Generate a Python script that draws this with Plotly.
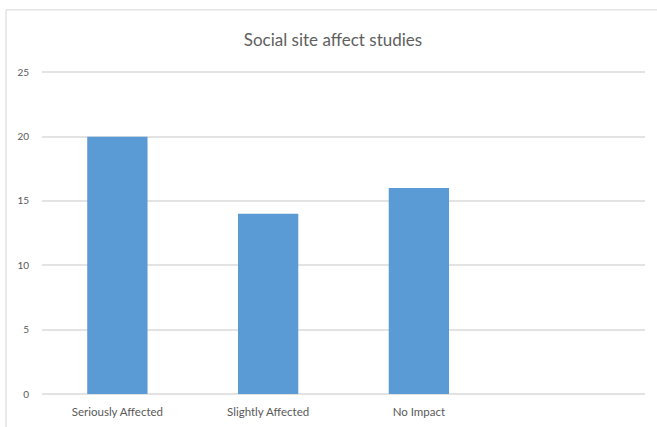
import plotly.graph_objects as go

# Survey data
categories = ["Seriously Affected", "Slightly Affected", "No Impact"]
counts = [20, 14, 16]
y_ticks = [0, 5, 10, 15, 20, 25]
title_text = "Social site affect studies"

positions = list(range(len(categories)))

fig = go.Figure(
    go.Bar(
        x=positions,
        y=counts,
        width=0.4,
        marker=dict(color="#5b9bd5", line=dict(width=0)),
        hoverinfo="x+y",
    )
)

grey_text = "#595959"
grid = "#e3e3e3"
font_family = "Lato, 'Open Sans', sans-serif"

fig.update_layout(
    width=657,
    height=427,
    margin=dict(l=42, r=12, t=71, b=33, autoexpand=False),
    paper_bgcolor="white",
    plot_bgcolor="white",
    showlegend=False,
    font=dict(family=font_family, color=grey_text, size=10),
    title=dict(
        text=title_text,
        x=333 / 657,
        xanchor="center",
        y=1 - 40 / 427,
        yanchor="middle",
        font=dict(family=font_family, size=17, color="#606060"),
    ),
    xaxis=dict(
        range=[-0.5, 3.5],
        tickvals=positions,
        ticktext=categories,
        showgrid=False,
        zeroline=False,
        showline=False,
        ticks="",
        automargin=False,
        ticklabelstandoff=9,
        tickfont=dict(size=11.5, color=grey_text),
        fixedrange=True,
    ),
    yaxis=dict(
        range=[0, 25.1],
        tickvals=y_ticks,
        showgrid=True,
        gridcolor=grid,
        gridwidth=1.5,
        zeroline=True,
        zerolinecolor=grid,
        zerolinewidth=1.5,
        showline=False,
        ticks="",
        automargin=False,
        ticklabelstandoff=12,
        tickfont=dict(size=10, color=grey_text),
        fixedrange=True,
    ),
    shapes=[
        # chart-area frame (left and top edges)
        dict(type="line", xref="paper", yref="paper",
             x0=-0.0597, x1=-0.0597, y0=1.19, y1=-0.2,
             line=dict(color=grid, width=1.5)),
        dict(type="line", xref="paper", yref="paper",
             x0=-0.0597, x1=1.1, y0=1.19, y1=1.19,
             line=dict(color=grid, width=1.5)),
    ],
)

fig.write_html("out.html")
